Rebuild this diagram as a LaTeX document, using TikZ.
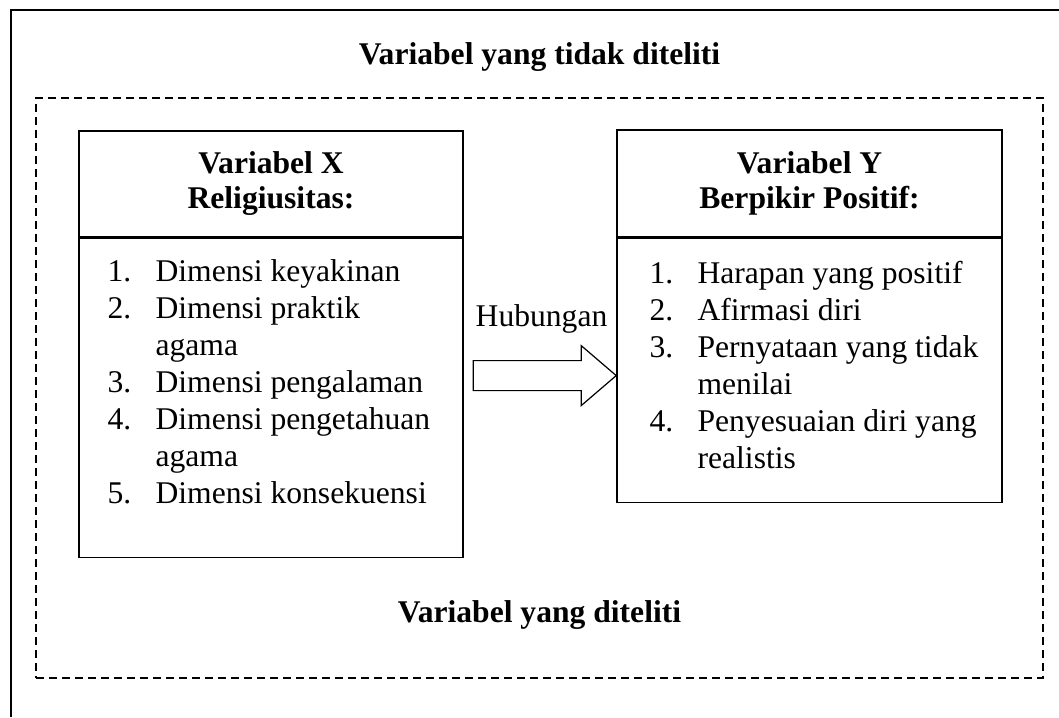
\documentclass[tikz,border=0pt]{standalone}
\usepackage{fontspec}
\setmainfont{Liberation Serif}
\usetikzlibrary{positioning}
\tikzset{
  box/.style={draw, line width=0.8pt, inner sep=0pt},
  lbl/.style={inner sep=0pt, font=\fontsize{15.8pt}{18.5pt}\selectfont},
  heading/.style={inner sep=0pt, font=\bfseries\fontsize{15.8pt}{17.5pt}\selectfont},
}
\newcommand{\itemlist}[1]{\begin{tabular}{@{}p{24pt}@{}l@{}}#1\end{tabular}}
\begin{document}
\begin{tikzpicture}[x=0.5pt, y=-0.5pt]
    % Fix the page size
    \useasboundingbox (0,0) rectangle (1059,717);

    % Draw the outer frame (only top and left side show)
    \draw[line width=0.8pt] (1059,10) -- (11,10) -- (11,717);

    % Draw the dashed area and its labels
    \node[box, dash pattern=on 4pt off 2.5pt, minimum width=503.5pt, minimum height=290pt] (area) at (539.5,388) {};
    \node[heading, above=12.5pt of area.north] (outside) {Variabel yang tidak diteliti};
    \node[heading, above=24.5pt of area.south] (inside) {Variabel yang diteliti};

    % Box X
    \node[box, heading, align=center, minimum width=192pt, minimum height=53pt] (headX) at (271,184) {Variabel X\\Religiusitas:};
    \node[box, minimum width=192pt, minimum height=159.5pt, below=0pt of headX] (listX) {};
    \node[lbl, below right=8.5pt and 14.5pt of listX.north west] (itemsX) {\itemlist{1. & Dimensi keyakinan\\ 2. & Dimensi praktik\\ & agama\\ 3. & Dimensi pengalaman\\ 4. & Dimensi pengetahuan\\ & agama\\ 5. & Dimensi konsekuensi}};

    % Box Y
    \node[box, heading, align=center, minimum width=192.5pt, minimum height=53.5pt] (headY) at (809.5,183.5) {Variabel Y\\Berpikir Positif:};
    \node[box, minimum width=192.5pt, minimum height=132pt, below=0pt of headY] (listY) {};
    \node[lbl, below right=9.5pt and 16.5pt of listY.north west] (itemsY) {\itemlist{1. & Harapan yang positif\\ 2. & Afirmasi diri\\ 3. & Pernyataan yang tidak\\ & menilai\\ 4. & Penyesuaian diri yang\\ & realistis}};

    % Block arrow from X to Y
    \coordinate (tip) at ([yshift=-2.5pt]listY.west);
    \draw[line width=0.6pt] (tip) -- ++(-17.5pt,15pt) -- ++(0,-7.5pt) -- ++(-54pt,0) -- ++(0,-15pt) -- ++(54pt,0) -- ++(0,-7.5pt) -- cycle;
    \node[lbl, anchor=base] (rel) at (541.5,326) {Hubungan};
\end{tikzpicture}
\end{document}
